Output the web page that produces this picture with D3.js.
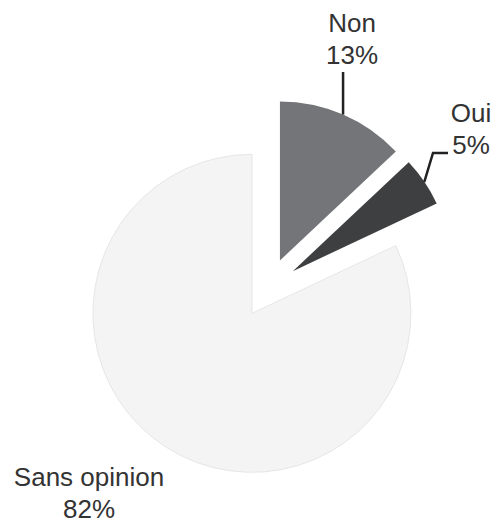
<!DOCTYPE html>
<html>
<head>
<meta charset="utf-8">
<script src="https://cdn.jsdelivr.net/npm/d3@7"></script>
<style>
  body { margin: 0; background: #fff; }
  text { font-family: "Liberation Sans", Arial, sans-serif; fill: #333; }
</style>
</head>
<body>
<div id="chart"></div>
<script>
const categories = ['Non', 'Oui', 'Sans opinion'];
const values = [13, 5, 82];
const colors = ['#747578', '#3e3f41', '#f4f4f4'];

var width = 496, height = 523;
var cx = 268, cy = 288, radius = 159, explode = 30;

var svg = d3.select('#chart').append('svg')
  .attr('width', width)
  .attr('height', height);

const data = categories.map((c, i) => ({name: c, value: values[i], color: colors[i]}));

const pie = d3.pie().sort(null).value(d => d.value);
const arc = d3.arc().innerRadius(0).outerRadius(radius);
const arcs = pie(data);

// offset of each slice along its mid angle
const shift = d => {
  const a = (d.startAngle + d.endAngle) / 2;
  return [explode * Math.sin(a), -explode * Math.cos(a)];
};

const g = svg.append('g').attr('transform', `translate(${cx}, ${cy})`);

g.selectAll('path')
  .data(arcs)
  .join('path')
    .attr('transform', d => `translate(${shift(d)})`)
    .attr('d', arc)
    .attr('fill', d => d.data.color)
    .attr('stroke', d => d.data.name == 'Sans opinion' ? '#e6e6e6' : 'none')
    .attr('stroke-width', 1);

// point on the outer edge at the middle of a slice, in svg coords
const edge = d => {
  const a = (d.startAngle + d.endAngle) / 2;
  const s = shift(d);
  return [cx + s[0] + radius * Math.sin(a), cy + s[1] - radius * Math.cos(a)];
};

// Non : straight leader up
var pNon = edge(arcs[0]);
svg.append('path')
  .attr('d', d3.line()([pNon, [pNon[0], 72]]))
  .attr('fill', 'none').attr('stroke', '#222').attr('stroke-width', 2.5);

// Oui : bent leader
var pOui = edge(arcs[1]);
svg.append('path')
  .attr('d', d3.line()([pOui, [433, 153], [448, 153]]))
  .attr('fill', 'none').attr('stroke', '#222').attr('stroke-width', 2.5);

const labels = [
  {x: 352, y: 32},
  {x: 471, y: 122},
  {x: 89, y: 486}
];

arcs.forEach((d, i) => {
  const t = svg.append('text')
    .attr('text-anchor', 'middle')
    .attr('font-size', 26);
  t.append('tspan').attr('x', labels[i].x).attr('y', labels[i].y).text(d.data.name);
  t.append('tspan').attr('x', labels[i].x).attr('y', labels[i].y + 32).text(d.data.value + '%');
});
</script>
</body>
</html>
